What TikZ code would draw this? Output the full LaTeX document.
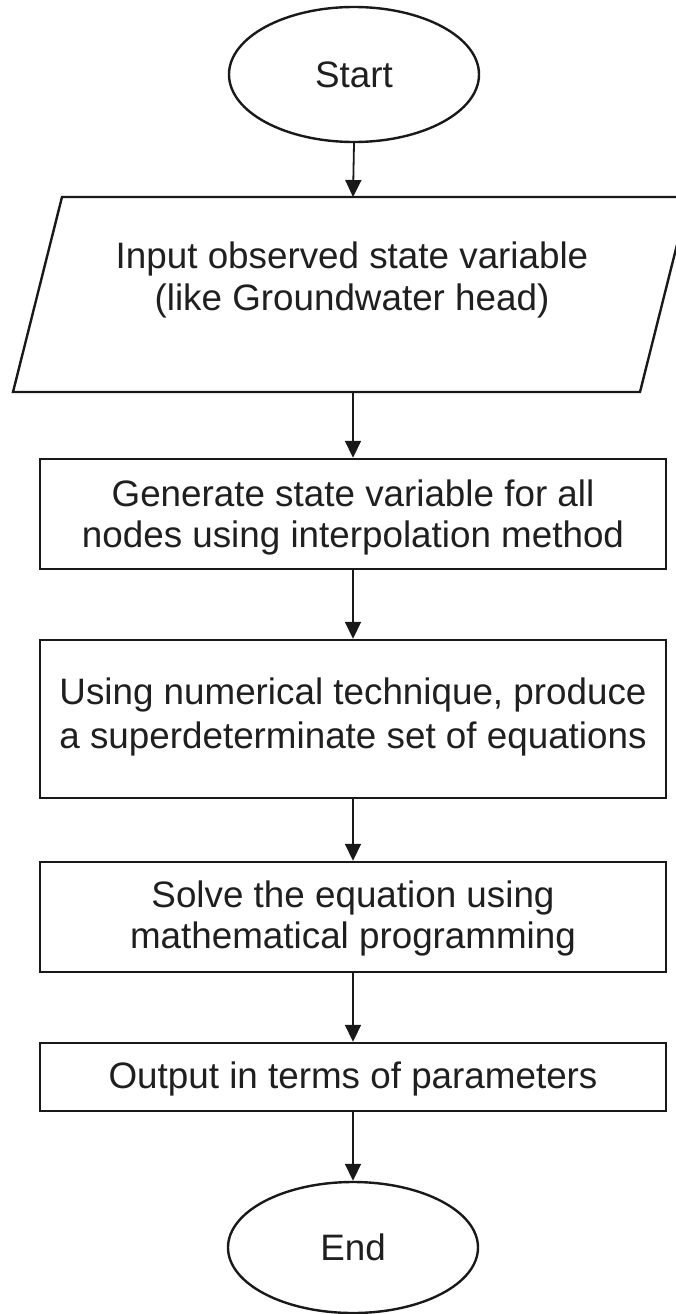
\documentclass[tikz,border=0pt]{standalone}
\usepackage{fontspec}
\setmainfont{Liberation Sans}
\usetikzlibrary{arrows.meta,shapes.geometric}
\begin{document}
\begin{tikzpicture}[x=1pt,y=-1pt,
  outline/.style={draw=black!90, line width=2.4pt},
  procbox/.style={outline, rectangle, minimum width=626pt, inner sep=0pt},
  term/.style={outline, ellipse, minimum width=250pt, inner sep=0pt},
  txt/.style={anchor=base, inner sep=0pt, text=black!88,
    font=\fontsize{36.8pt}{42pt}\selectfont},
  flow/.style={-{Triangle[width=16pt,length=17pt]}, line width=1.8pt, draw=black!90, fill=black!90}
]
\clip (0,0) rectangle (676,1314);
\fill[white] (0,0) rectangle (676,1314);

% terminals
\node[term, minimum height=135pt] (start) at (354,74.5) {};
\node[txt] (starttxt) at (354,88) {Start};

% input parallelogram
\draw[outline] (62,197) -- (689,197) -- (640,392) -- (13,392) -- cycle;
\coordinate (inptop) at (353,197);
\coordinate (inpbot) at (353,392);
\node[txt] (inptxta) at (352,268) {Input observed state variable};
\node[txt] (inptxtb) at (352,310) {(like Groundwater head)};

% process boxes
\node[procbox, minimum height=110pt] (gen) at (353,514) {};
\node[txt] (gentxta) at (353,506) {Generate state variable for all};
\node[txt] (gentxtb) at (353,547) {nodes using interpolation method};

\node[procbox, minimum height=158pt] (num) at (353,719) {};
\node[txt] (numtxta) at (353,704) {Using numerical technique, produce};
\node[txt] (numtxtb) at (353,748) {a superdeterminate set of equations};

\node[procbox, minimum height=110pt] (solve) at (353,917) {};
\node[txt] (solvetxta) at (353,907) {Solve the equation using};
\node[txt] (solvetxtb) at (353,948) {mathematical programming};

\node[procbox, minimum height=68pt] (outp) at (353,1077) {};
\node[txt] (outptxt) at (353,1088) {Output in terms of parameters};

\node[term, minimum height=131pt] (finish) at (353,1247.5) {};
\node[txt] (finishtxt) at (353,1260) {End};

% connectors
\draw[flow] (start.south) -- (inptop);
\draw[flow] (inpbot) -- (gen.north);
\draw[flow] (gen.south) -- (num.north);
\draw[flow] (num.south) -- (solve.north);
\draw[flow] (solve.south) -- (outp.north);
\draw[flow] (outp.south) -- (finish.north);
\end{tikzpicture}
\end{document}
